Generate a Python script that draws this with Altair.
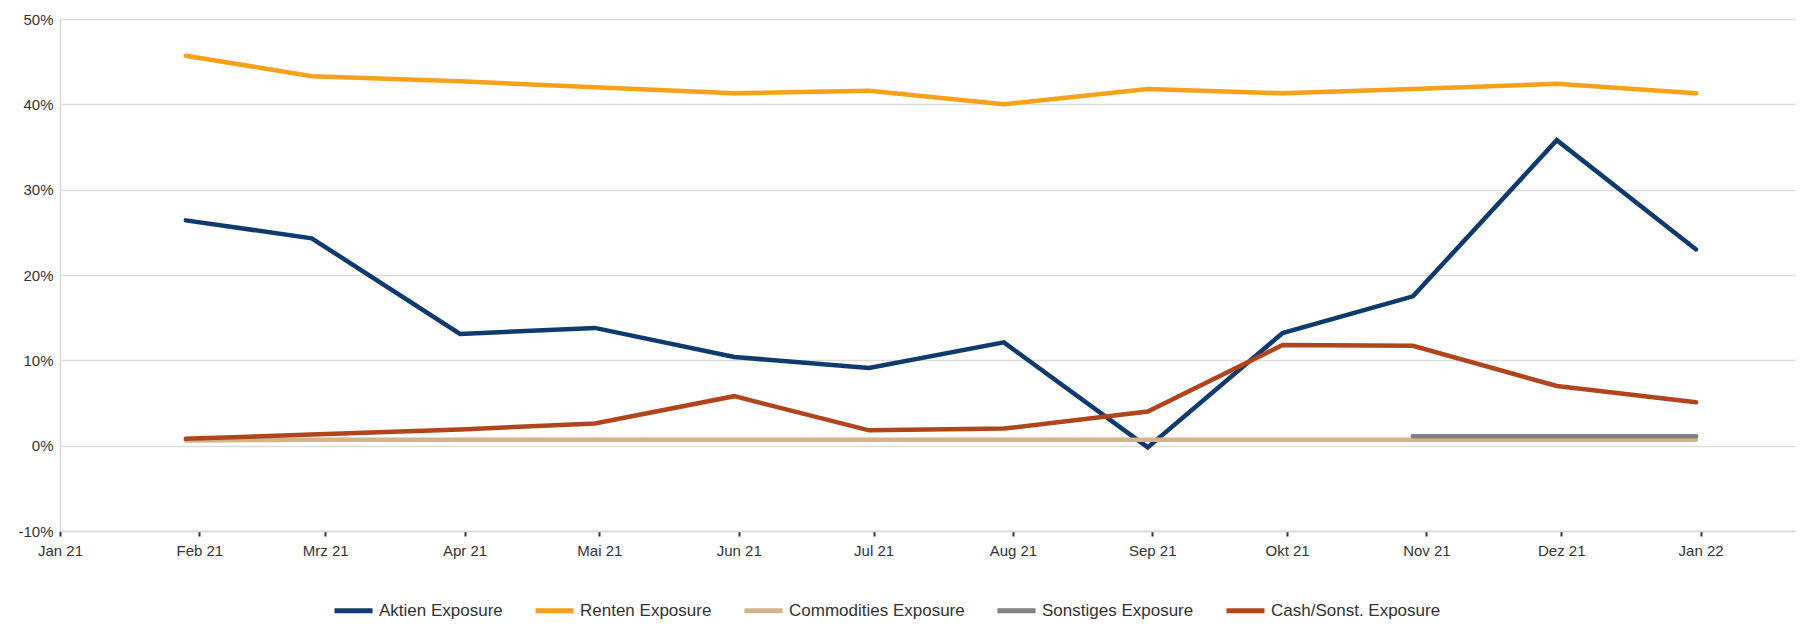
import altair as alt
import pandas as pd

dates = ["2021-01-29", "2021-02-26", "2021-03-31", "2021-04-30", "2021-05-31", "2021-06-30",
         "2021-07-30", "2021-08-31", "2021-09-30", "2021-10-29", "2021-11-30", "2021-12-31"]
aktien = [26.4, 24.3, 13.1, 13.8, 10.4, 9.1, 12.1, -0.2, 13.2, 17.5, 35.8, 23.0]
renten = [45.7, 43.3, 42.7, 42.0, 41.3, 41.6, 40.0, 41.8, 41.3, 41.8, 42.4, 41.3]
commodities = [0.6, 0.7, 0.7, 0.7, 0.7, 0.7, 0.7, 0.7, 0.7, 0.7, 0.7, 0.7]
sonstiges = [None, None, None, None, None, None, None, None, None, 1.1, 1.1, 1.1]
cash = [0.8, 1.3, 1.9, 2.6, 5.8, 1.8, 2.0, 4.0, 11.8, 11.7, 7.0, 5.1]

series_names = ["Aktien Exposure", "Renten Exposure", "Commodities Exposure",
                "Sonstiges Exposure", "Cash/Sonst. Exposure"]
series_values = [aktien, renten, commodities, sonstiges, cash]
series_colors = ["#0f3a6e", "#f7a01a", "#d2b48c", "#808080", "#b2441b"]

months_de = ["Jan", "Feb", "Mrz", "Apr", "Mai", "Jun", "Jul", "Aug", "Sep", "Okt", "Nov", "Dez"]
y_ticks = [-10, 0, 10, 20, 30, 40, 50]

rows = []
for name, vals in zip(series_names, series_values):
    for d, v in zip(dates, vals):
        if v is not None:
            rows.append({"Datum": d + "T00:00:00", "Serie": name, "Wert": v})
df = pd.DataFrame(rows)

month_expr = "[" + ",".join("'" + m + "'" for m in months_de) + "][month(datum.value)] + ' ' + timeFormat(datum.value, '%y')"

chart = alt.Chart(df).mark_line(strokeWidth=4.5, strokeCap="round", strokeJoin="miter").encode(
    x=alt.X("Datum:T",
            scale=alt.Scale(domain=[alt.DateTime(year=2021, month=1, date=1),
                                    alt.DateTime(year=2022, month=1, date=22)]),
            axis=alt.Axis(title=None, grid=False, tickCount={"interval": "month", "step": 1},
                          labelExpr=month_expr, labelFlush=False, labelOverlap=False,
                          tickColor="#333333", tickSize=5, tickWidth=2,
                          labelPadding=7, labelFontSize=15, labelColor="#333333",
                          domainColor="#d9d9d9", domainWidth=1.5)),
    y=alt.Y("Wert:Q",
            scale=alt.Scale(domain=[-10, 50], nice=False, zero=False),
            axis=alt.Axis(title=None, values=y_ticks, labelExpr="datum.value + '%'",
                          ticks=False, labelPadding=7, labelFontSize=15, labelColor="#333333",
                          gridColor="#dcdcdc", gridWidth=1.5,
                          domainColor="#d9d9d9", domainWidth=1.5)),
    color=alt.Color("Serie:N",
                    scale=alt.Scale(domain=series_names, range=series_colors),
                    legend=alt.Legend(title=None, orient="none", legendX=272, legendY=570,
                                      direction="horizontal", columns=5,
                                      symbolType="stroke", symbolSize=1444, symbolStrokeWidth=5,
                                      labelFontSize=17, labelOffset=4, columnPadding=22,
                                      labelLimit=400, labelColor="#333333")),
).properties(
    width=1735, height=512,
    autosize=alt.AutoSizeParams(type="none"),
    padding={"left": 52, "top": 11, "right": 4, "bottom": 89},
).configure(
    font="Liberation Sans"
).configure_view(strokeWidth=0)

chart.save("out.html", embed_options={"renderer": "svg", "actions": False})
